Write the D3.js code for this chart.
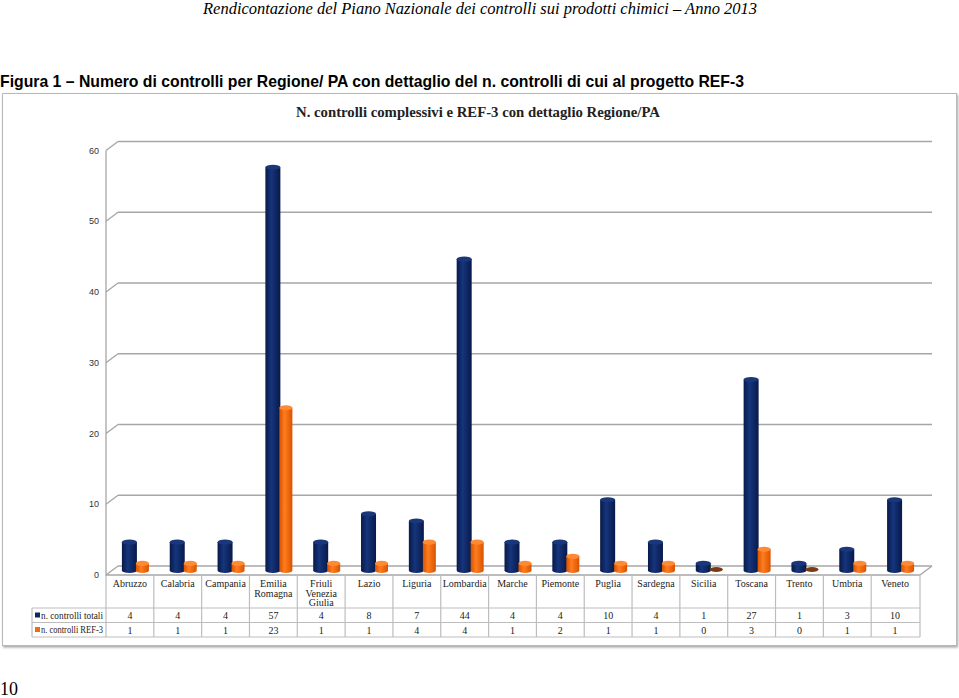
<!DOCTYPE html>
<html><head><meta charset="utf-8">
<script src="https://cdn.jsdelivr.net/npm/d3@7"></script>
<style>html,body{margin:0;padding:0;background:#fff;}svg{display:block;}</style>
</head><body>
<svg id="c" width="959" height="698"></svg>
<script>
const categories = ["Abruzzo","Calabria","Campania","Emilia Romagna","Friuli Venezia Giulia","Lazio","Liguria","Lombardia","Marche","Piemonte","Puglia","Sardegna","Sicilia","Toscana","Trento","Umbria","Veneto"];
const categoryLines = [["Abruzzo"],["Calabria"],["Campania"],["Emilia","Romagna"],["Friuli","Venezia","Giulia"],["Lazio"],["Liguria"],["Lombardia"],["Marche"],["Piemonte"],["Puglia"],["Sardegna"],["Sicilia"],["Toscana"],["Trento"],["Umbria"],["Veneto"]];
const totali = [4,4,4,57,4,8,7,44,4,4,10,4,1,27,1,3,10];
const ref3 = [1,1,1,23,1,1,4,4,1,2,1,1,0,3,0,1,1];
const seriesNames = ["n. controlli totali","n. controlli REF-3"];
const yTicks = [0,10,20,30,40,50,60];
const headerText = "Rendicontazione del Piano Nazionale dei controlli sui prodotti chimici \u2013 Anno 2013";
const captionText = "Figura 1 \u2013 Numero di controlli per Regione/ PA con dettaglio del n. controlli di cui al progetto REF-3";
const chartTitle = "N. controlli complessivi e REF-3 con dettaglio Regione/PA";

const svg = d3.select("#c");
const defs = svg.append("defs");
function cylGrad(id, edge, mid){
  const g = defs.append("linearGradient").attr("id", id).attr("x1","0").attr("x2","1").attr("y1","0").attr("y2","0");
  g.append("stop").attr("offset","0").attr("stop-color", edge);
  g.append("stop").attr("offset","0.4").attr("stop-color", mid);
  g.append("stop").attr("offset","1").attr("stop-color", edge);
}
cylGrad("gNavy", "#08194a", "#16357c");
cylGrad("gOrange", "#d95300", "#ff7d1f");
const f = defs.append("filter").attr("id","sh").attr("x","-5%").attr("y","-5%").attr("width","110%").attr("height","110%");
f.append("feDropShadow").attr("dx",1).attr("dy",1.5).attr("stdDeviation",1).attr("flood-color","#000").attr("flood-opacity",0.35);

// page texts
svg.append("text").attr("x",203).attr("y",14).attr("textLength",554).attr("lengthAdjust","spacingAndGlyphs")
  .attr("font-family","Liberation Serif, serif").attr("font-style","italic").attr("font-size",16).attr("fill","#000").text(headerText);
svg.append("text").attr("x",0).attr("y",87).attr("textLength",744).attr("lengthAdjust","spacingAndGlyphs")
  .attr("font-family","Liberation Sans, Arial, sans-serif").attr("font-weight","bold").attr("font-size",16.5).attr("fill","#000").text(captionText);
svg.append("text").attr("x",0).attr("y",695)
  .attr("font-family","Liberation Serif, serif").attr("font-size",18).attr("fill","#000").text("10");

// chart frame
svg.append("rect").attr("x",2.5).attr("y",93.5).attr("width",954).attr("height",552)
  .attr("fill","#fff").attr("stroke","#b8b8b8").attr("stroke-width",1).attr("filter","url(#sh)");

svg.append("text").attr("x",296).attr("y",117).attr("textLength",364).attr("lengthAdjust","spacingAndGlyphs")
  .attr("font-family","Liberation Serif, serif").attr("font-weight","bold").attr("font-size",15.5).attr("fill","#222").text(chartTitle);

// geometry
const x0 = 106, x1 = 919;
const dx = 12, dy = 9;
const x = d3.scaleBand().domain(categories).range([x0, x1]).padding(0);
const y = d3.scaleLinear().domain([0,60]).range([570.5, 146]); // mid-depth
const yFront = v => y(v) + dy/2;
const yBack = v => y(v) - dy/2;

const gridC = "#a6a6a6";
// back wall gridlines
svg.append("g").selectAll("line").data(yTicks).join("line")
  .attr("x1", x0+dx).attr("x2", x1+dx+1).attr("y1", d=>yBack(d)).attr("y2", d=>yBack(d))
  .attr("stroke", gridC).attr("stroke-width",1.3);
// left wall slants
svg.append("g").selectAll("line").data(yTicks).join("line")
  .attr("x1", x0).attr("x2", x0+dx).attr("y1", d=>yFront(d)).attr("y2", d=>yBack(d))
  .attr("stroke", gridC).attr("stroke-width",1.3);
svg.append("line").attr("x1",x0).attr("x2",x0).attr("y1",yFront(60)).attr("y2",yFront(0)+1)
  .attr("stroke", gridC).attr("stroke-width",1.3);
// floor right edge
svg.append("line").attr("x1",x1+1).attr("x2",x1+1+dx).attr("y1",yFront(0)).attr("y2",yBack(0))
  .attr("stroke", gridC).attr("stroke-width",1.3);
svg.append("line").attr("x1",x0).attr("x2",x1+1).attr("y1",yFront(0)).attr("y2",yFront(0))
  .attr("stroke", gridC).attr("stroke-width",1.3);

// y labels
svg.append("g").selectAll("text").data(yTicks).join("text")
  .attr("x", 99).attr("y", d=>yFront(d)+3).attr("text-anchor","end")
  .attr("font-family","Liberation Sans, Arial, sans-serif").attr("font-size",9).attr("fill","#333")
  .text(d=>d);

// bars
const bw = 14;
const ry = 2.6;
function drawCyl(g, cx, w, v, grad, capFill, zeroFill){
  const yb = y(0), yt = y(v);
  if (v === 0){
    g.append("ellipse").attr("cx",cx+w/2).attr("cy",yb-1).attr("rx",w/2).attr("ry",ry)
      .attr("fill",zeroFill);
    return;
  }
  g.append("path").attr("d",
      `M${cx},${yt} L${cx},${yb} A${w/2},${ry} 0 0 0 ${cx+w},${yb} L${cx+w},${yt} Z`)
    .attr("fill", grad);
  g.append("ellipse").attr("cx",cx+w/2).attr("cy",yt).attr("rx",w/2).attr("ry",ry).attr("fill",capFill);
}
const barsG = svg.append("g");
categories.forEach((c,i)=>{
  const cc = x(c) + x.bandwidth()/2 + dx/2;
  drawCyl(barsG, cc - bw, bw+1, totali[i], "url(#gNavy)", "#1a377a", "#5a2a10");
  drawCyl(barsG, cc, bw-1, ref3[i], "url(#gOrange)", "#ff8a33", "#7a3a14");
});

// data table
const tC = "#bdbdbd";
const rowTop = yFront(0), r1 = 608, r2 = 622.5, r3 = 637;
const legendX = 32;
const tg = svg.append("g");
[r1, r2, r3].forEach(yy => tg.append("line").attr("x1",legendX).attr("x2",x1+1).attr("y1",yy).attr("y2",yy).attr("stroke",tC).attr("stroke-width",1.2));
categories.forEach(c => tg.append("line").attr("x1",x(c)).attr("x2",x(c)).attr("y1",rowTop).attr("y2",r3).attr("stroke",tC).attr("stroke-width",1.2));
tg.append("line").attr("x1",x1+1).attr("x2",x1+1).attr("y1",rowTop).attr("y2",r3).attr("stroke",tC).attr("stroke-width",1.2);
tg.append("line").attr("x1",legendX).attr("x2",legendX).attr("y1",r1).attr("y2",r3).attr("stroke",tC).attr("stroke-width",1.2);

const tf = "Liberation Serif, serif";
categories.forEach((c,i)=>{
  const t = tg.append("text").attr("text-anchor","middle").attr("font-family",tf).attr("font-size",10).attr("fill","#222");
  categoryLines[i].forEach((ln,j)=>{
    t.append("tspan").attr("x", x(c)+x.bandwidth()/2).attr("y", 587 + j*9.5).text(ln);
  });
  tg.append("text").attr("x", x(c)+x.bandwidth()/2).attr("y", 619).attr("text-anchor","middle")
    .attr("font-family",tf).attr("font-size",10).attr("fill","#222").text(totali[i]);
  tg.append("text").attr("x", x(c)+x.bandwidth()/2).attr("y", 633.5).attr("text-anchor","middle")
    .attr("font-family",tf).attr("font-size",10).attr("fill","#222").text(ref3[i]);
});
const legColors = ["#0c2766","#f26a10"];
seriesNames.forEach((s,i)=>{
  const yy = i===0 ? r1 : r2;
  tg.append("rect").attr("x",35).attr("y",yy+4.5).attr("width",5).attr("height",5).attr("fill",legColors[i]);
  tg.append("text").attr("x",41).attr("y",yy+10.5).attr("textLength",62).attr("lengthAdjust","spacingAndGlyphs")
    .attr("font-family",tf).attr("font-size",9.5).attr("fill","#222").text(s);
});
</script>
</body></html>
